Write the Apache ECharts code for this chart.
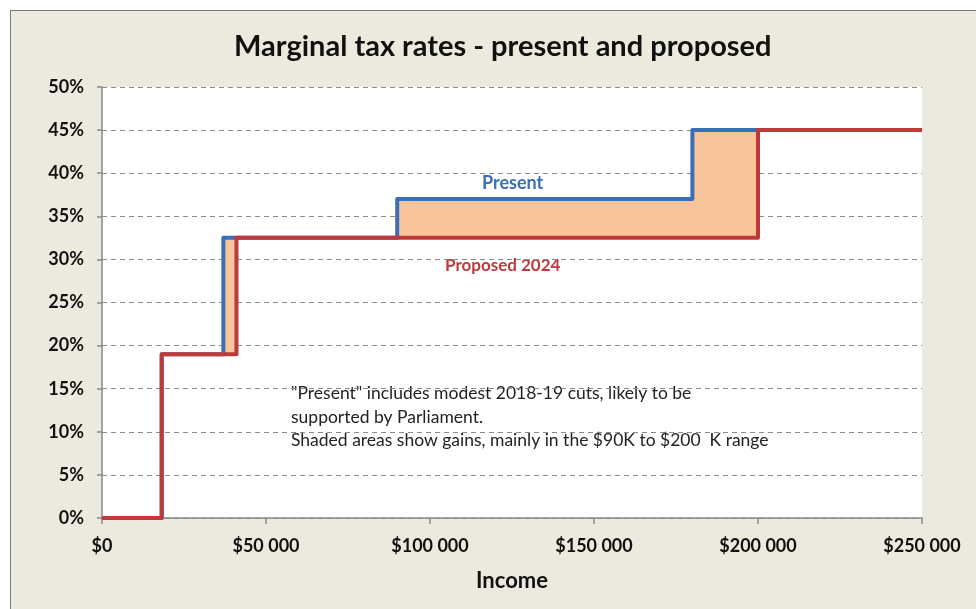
<!DOCTYPE html>
<html><head><meta charset="utf-8">
<script src="https://cdn.jsdelivr.net/npm/echarts@6/dist/echarts.min.js"></script>
<style>
html,body{margin:0;padding:0;background:#fff;}
#frame{position:absolute;left:10px;top:10px;width:980px;height:610px;background:#ECEADF;border-left:1.5px solid #7a7a7a;border-top:1.5px solid #7a7a7a;}
#chart{position:absolute;left:0;top:0;width:976px;height:609px;}
</style></head>
<body>
<div id="frame"></div>
<div id="chart"></div>
<script>
// Data
const title = 'Marginal tax rates - present and proposed';
const presentThresholds = [0, 18200, 37000, 90000, 180000];
const presentRates = [0, 19, 32.5, 37, 45];
const proposedThresholds = [0, 18200, 41000, 200000];
const proposedRates = [0, 19, 32.5, 45];
const xMax = 250000;
const yTicks = [0, 5, 10, 15, 20, 25, 30, 35, 40, 45, 50];
const xTicks = [0, 50000, 100000, 150000, 200000, 250000];
const noteLines = ['"Present" includes modest 2018-19 cuts, likely to be', 'supported by Parliament.', 'Shaded areas show gains, mainly in the $90K to $200  K range'];

function stepData(th, rt) {
  const d = th.map((t, i) => [t, rt[i]]);
  d.push([xMax, rt[rt.length - 1]]);
  return d;
}
function rateAt(th, rt, x) {
  let r = rt[0];
  for (let i = 0; i < th.length; i++) if (x >= th[i]) r = rt[i];
  return r;
}
const breaks = Array.from(new Set(presentThresholds.concat(proposedThresholds, [xMax]))).sort((a, b) => a - b);
const gains = [];
for (let i = 0; i < breaks.length - 1; i++) {
  const hi = rateAt(presentThresholds, presentRates, breaks[i]);
  const lo = rateAt(proposedThresholds, proposedRates, breaks[i]);
  if (hi > lo) gains.push([breaks[i], breaks[i + 1], lo, hi]);
}

const FONT = 'Lato';
const chart = echarts.init(document.getElementById('chart'));
chart.setOption({
  backgroundColor: 'transparent',
  animation: false,
  title: { text: title, left: 229, top: 27, textStyle: { fontFamily: FONT, fontSize: 29, fontWeight: 'bold', color: '#111' } },
  grid: { left: 102, right: 54, top: 87, bottom: 91, backgroundColor: '#fff', show: true, borderWidth: 0 },
  xAxis: {
    type: 'value', min: 0, max: xMax, interval: 50000,
    axisLine: { show: true, lineStyle: { color: '#888', width: 1.5 } },
    axisTick: { show: true, length: 6, lineStyle: { color: '#888', width: 1.5 } },
    splitLine: { show: false },
    axisLabel: { margin: 19, fontFamily: FONT, fontSize: 18, fontWeight: 'bold', color: '#111',
      formatter: v => '$' + (v === 0 ? '0' : (v / 1000) + ' 000') },
    name: 'Income', nameLocation: 'middle', nameGap: 52,
    nameTextStyle: { fontFamily: FONT, fontSize: 22, fontWeight: 'bold', color: '#111' }
  },
  yAxis: {
    type: 'value', min: 0, max: 50, interval: 5,
    axisLine: { show: true, lineStyle: { color: '#888', width: 1.5 } },
    axisTick: { show: true, length: 5, lineStyle: { color: '#888', width: 1.5 } },
    splitLine: { show: true, lineStyle: { color: '#8a8a8a', type: [5, 4], width: 1.2 } },
    axisLabel: { margin: 18, fontFamily: FONT, fontSize: 18, fontWeight: 'bold', color: '#111', formatter: '{value}%' }
  },
  series: [
    {
      type: 'custom', name: 'gains', z: 1,
      data: gains,
      renderItem: function (params, api) {
        const p0 = api.coord([api.value(0), api.value(3)]);
        const p1 = api.coord([api.value(1), api.value(2)]);
        return { type: 'rect', shape: { x: p0[0] - 0.5, y: p0[1], width: p1[0] - p0[0] + 1, height: p1[1] - p0[1] },
          style: { fill: '#F8C59B' } };
      }
    },
    {
      type: 'line', name: 'Present', step: 'end', z: 3, symbol: 'none',
      data: stepData(presentThresholds, presentRates),
      lineStyle: { color: '#3A6EB8', width: 4, join: 'round' }
    },
    {
      type: 'line', name: 'Proposed 2024', step: 'end', z: 4, symbol: 'none',
      data: stepData(proposedThresholds, proposedRates),
      lineStyle: { color: '#C0393A', width: 4, join: 'round' }
    }
  ],
  graphic: [
    { type: 'text', left: 482, top: 174, style: { text: 'Present', fontFamily: FONT, fontSize: 18, fontWeight: 'bold', fill: '#3A6EB8' } },
    { type: 'text', left: 445, top: 257, style: { text: 'Proposed 2024', fontFamily: FONT, fontSize: 17, fontWeight: 'bold', fill: '#C0393A' } },
    { type: 'text', left: 291, top: 382, style: { text: noteLines.join('\n'), fontFamily: FONT, fontSize: 17.5, lineHeight: 23.5, fill: '#222' } }
  ]
});
</script>
</body></html>
